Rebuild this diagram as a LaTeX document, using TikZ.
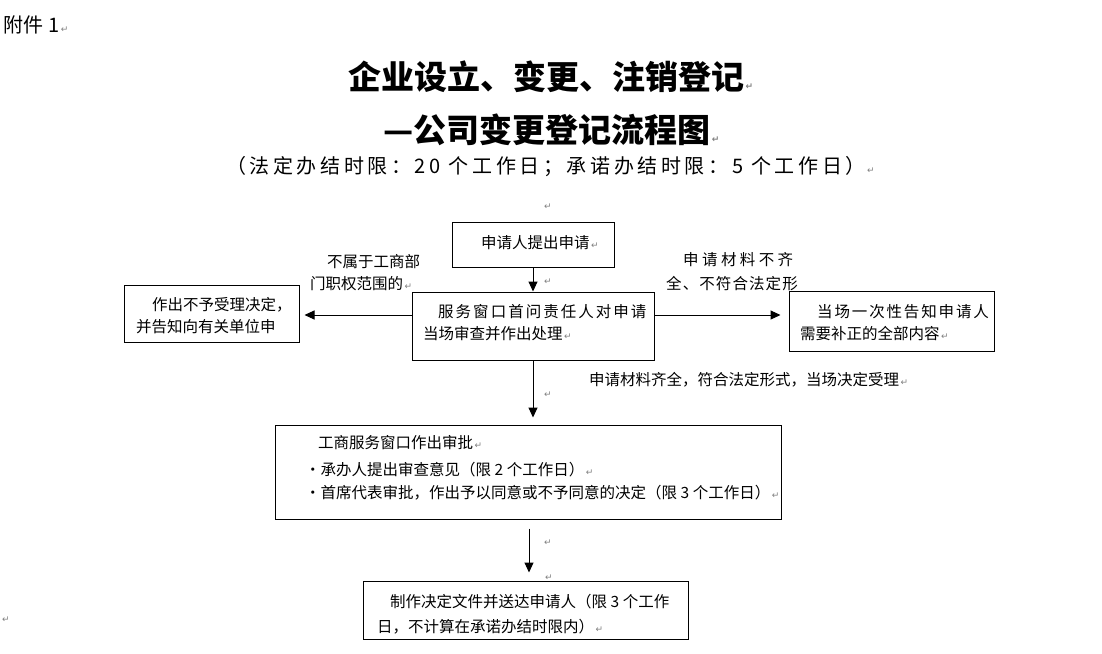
\documentclass[tikz,border=0pt]{standalone}
\usepackage{fontspec}
\setmainfont{Noto Sans CJK SC}
\newfontfamily\dejavu{DejaVu Sans}
\usetikzlibrary{arrows.meta}
\definecolor{pmgray}{RGB}{128,128,128}
\newcommand\pmk{{\dejavu\color{pmgray}\fontsize{9}{9}\selectfont\,↵}}
\newcommand\bodyfont{\fontsize{15.5}{18}\selectfont}
\newcommand\spc[1]{\addfontfeatures{LetterSpace=#1}}
\begin{document}
\begin{tikzpicture}[x=1pt,y=-1pt,
  box/.style={draw=black,line width=1pt,inner sep=0pt},
  txt/.style={anchor=west,inner sep=0pt,font=\bodyfont,text height=12.5pt,text depth=1pt},
  titletxt/.style={anchor=west,inner sep=0pt,font=\fontsize{33}{40}\selectfont\bfseries,text height=27pt,text depth=2pt},
  subtxt/.style={anchor=west,inner sep=0pt,font=\fontsize{20}{23}\selectfont,text height=16pt,text depth=1.5pt},
  arr/.style={line width=1pt,-{Triangle[width=9pt,length=10pt]}},
  pmark/.style={inner sep=0pt,font=\dejavu\fontsize{9}{9}\selectfont,text=pmgray}
]
\useasboundingbox (0,0) rectangle (1102,653);
\fill[white] (0,0) rectangle (1102,653);

% header
\node[subtxt] (att) at (3,25) {附件\hspace{5pt}1\pmk};
\node[titletxt] (title1) at (348,77) {企业设立、变更、注销登记\pmk};
\node[titletxt] (title2) at (383,130) {—公司变更登记流程图\pmk};
\node[subtxt] (sub) at (226,166) {\spc{18}（法定办结时限：20 个工作日；承诺办结时限：5 个工作日）\pmk};

% boxes
\node[box,minimum width=162pt,minimum height=45pt] (b1) at (533,244.5) {};
\node[box,minimum width=242pt,minimum height=68pt] (b2) at (533,326) {};
\node[box,minimum width=175pt,minimum height=57pt] (b3) at (211.5,313.5) {};
\node[box,minimum width=205pt,minimum height=60pt] (b4) at (891.5,321) {};
\node[box,minimum width=506pt,minimum height=94pt] (b5) at (528,472) {};
\node[box,minimum width=325pt,minimum height=58pt] (b6) at (525.5,610) {};

% box texts
\node[txt] (t1) at (481,243) {申请人提出申请\pmk};
\node[txt] (t2a) at (438,312) {\spc{13}服务窗口首问责任人对申请};
\node[txt] (t2b) at (423,334) {当场审查并作出处理\pmk};
\node[txt] (t3a) at (152,305) {作出不予受理决定，};
\node[txt] (t3b) at (136,327) {并告知向有关单位申};
\node[txt] (t4a) at (817,312) {\spc{12}当场一次性告知申请人};
\node[txt] (t4b) at (800,334) {需要补正的全部内容\pmk};
\node[txt] (t5a) at (318,443) {工商服务窗口作出审批\pmk};
\node[txt] (t5b) at (305,470) {·承办人提出审查意见（限 2 个工作日）\pmk};
\node[txt] (t5c) at (305,493) {·首席代表审批，作出予以同意或不予同意的决定（限 3 个工作日）\pmk};
\node[txt] (t6a) at (390,602) {制作决定文件并送达申请人（限 3 个工作};
\node[txt] (t6b) at (377,627) {日，不计算在承诺办结时限内）\pmk};

% connector labels
\node[txt] (l1a) at (327,262) {不属于工商部};
\node[txt] (l1b) at (310,284) {门职权范围的\pmk};
\node[txt] (l2a) at (683,260) {\spc{22}申请材料不齐};
\node[txt] (l2b) at (666,284) {\spc{7}全、不符合法定形};
\node[txt] (l3) at (589,380) {申请材料齐全，符合法定形式，当场决定受理\pmk};

% floating paragraph marks
\node[pmark] (m1) at (548,207) {↵};
\node[pmark] (m2) at (548,282) {↵};
\node[pmark] (m3) at (548,395) {↵};
\node[pmark] (m4) at (548,543) {↵};
\node[pmark] (m5) at (549,578) {↵};
\node[pmark] (m6) at (6,620) {↵};

% connectors
\draw[arr] (b1.south) -- (b2.north);
\path (b2.west |- b3.east) ++(0,1.5) coordinate (lstart);
\path (b3.east |- lstart) ++(5,0) coordinate (ltip);
\draw[arr] (lstart) -- (ltip);
\path (b2.east |- lstart) coordinate (rstart);
\path (b4.west |- lstart) ++(-8,0) coordinate (rtip);
\draw[arr] (rstart) -- (rtip);
\path (b2.south |- b5.north) ++(0,-7) coordinate (dtip);
\draw[arr] (b2.south) -- (dtip);
\path (b5.south) ++(1,9) coordinate (fstart);
\path (fstart |- b6.north) ++(0,-8) coordinate (ftip);
\draw[arr] (fstart) -- (ftip);
\end{tikzpicture}
\end{document}
